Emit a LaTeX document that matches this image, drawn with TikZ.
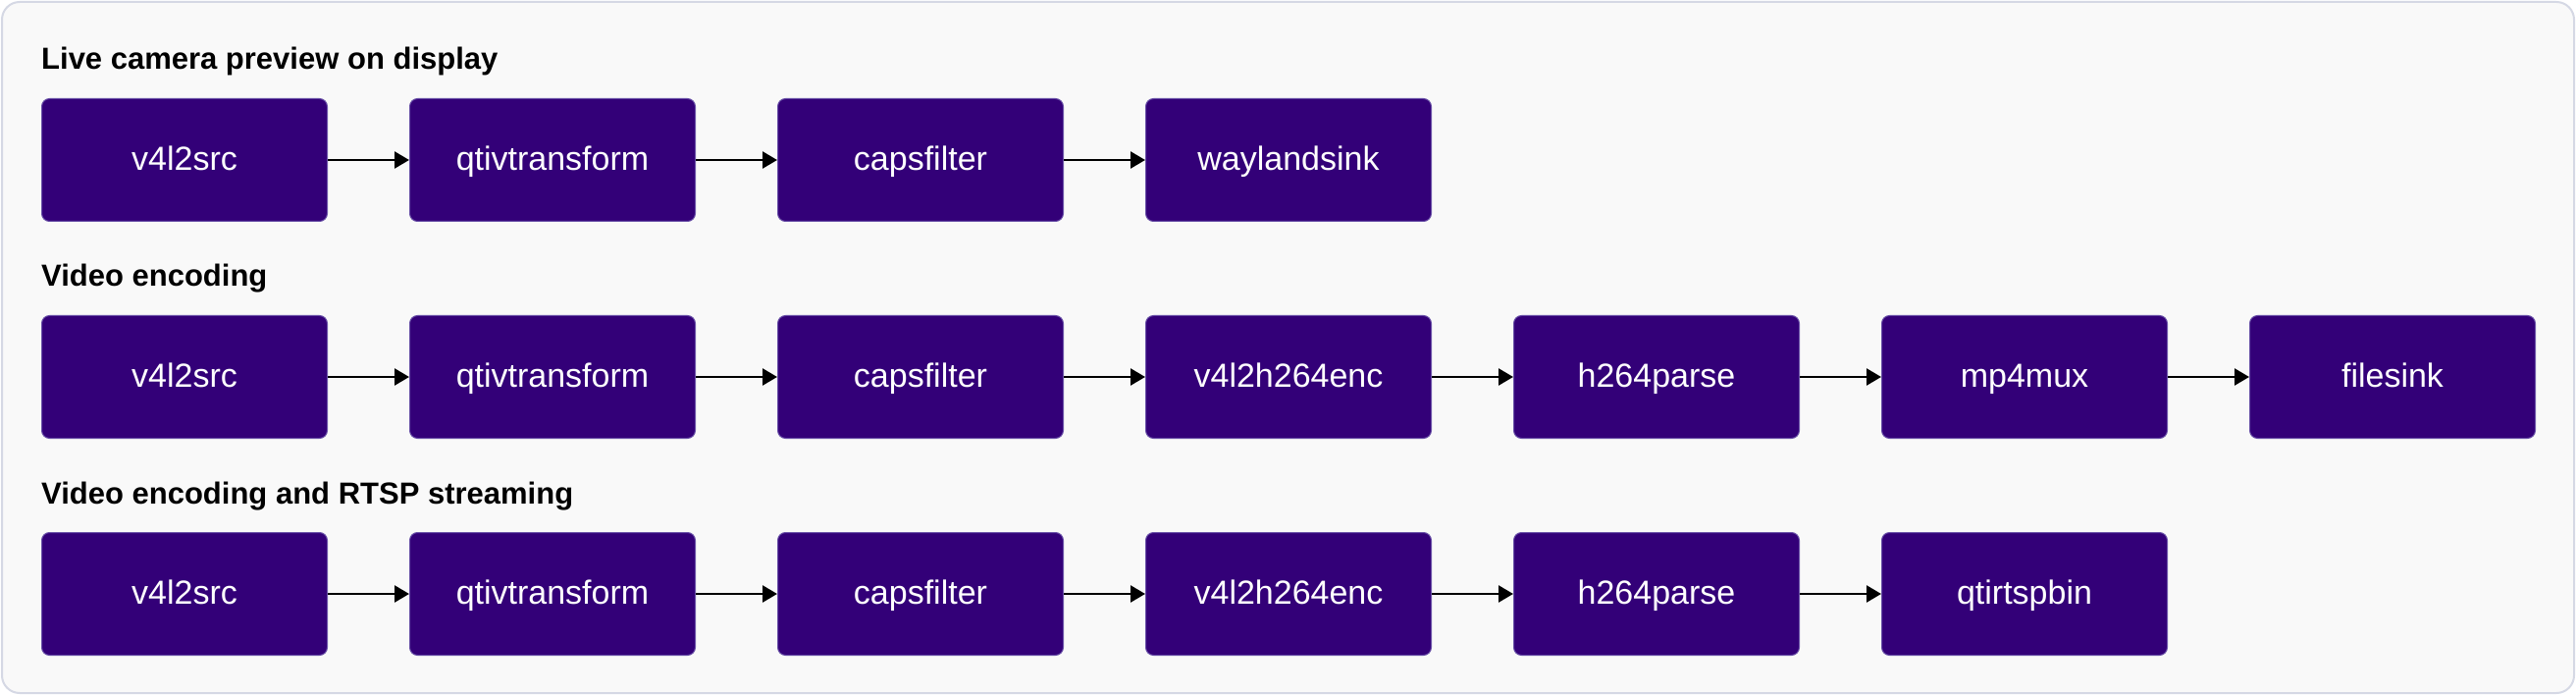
\documentclass[tikz,border=0pt]{standalone}
\usepackage{fontspec}
\setmainfont{Liberation Sans}
\usetikzlibrary{arrows.meta}
\definecolor{boxfill}{HTML}{330078}
\definecolor{boxedge}{HTML}{6A52A8}
\definecolor{framefill}{HTML}{F9F9F9}
\definecolor{frameedge}{HTML}{D5D8E4}
\tikzset{
  stage/.style={draw=boxedge, line width=1pt, fill=boxfill, rounded corners=8pt,
    minimum width=291pt, minimum height=125pt, inner sep=0pt, anchor=north west,
    text=white, font=\fontsize{34}{40}\selectfont, text height=24pt, text depth=3pt},
  rowtitle/.style={anchor=base west, inner sep=0pt, font=\bfseries\fontsize{31}{36}\selectfont, text=black},
  flow/.style={draw=black, line width=2.5pt, -{Triangle[length=15pt,width=17pt]}}
}
\begin{document}
\begin{tikzpicture}[x=1pt,y=-1pt]
\useasboundingbox (0,0) rectangle (2625,708);
\draw[frameedge, fill=framefill, line width=2pt, rounded corners=18pt] (2,2) rectangle (2623,706);
% Row 1
\node[rowtitle] (t1) at (42,71) {Live camera preview on display};
\node[stage] (a0) at (42,100) {v4l2src};
\node[stage] (a1) at (417,100) {qtivtransform};
\node[stage] (a2) at (792,100) {capsfilter};
\node[stage] (a3) at (1167,100) {waylandsink};
\draw[flow] (a0.east) -- (a1.west);
\draw[flow] (a1.east) -- (a2.west);
\draw[flow] (a2.east) -- (a3.west);
% Row 2
\node[rowtitle] (t2) at (42,292) {Video encoding};
\node[stage] (b0) at (42,321) {v4l2src};
\node[stage] (b1) at (417,321) {qtivtransform};
\node[stage] (b2) at (792,321) {capsfilter};
\node[stage] (b3) at (1167,321) {v4l2h264enc};
\node[stage] (b4) at (1542,321) {h264parse};
\node[stage] (b5) at (1917,321) {mp4mux};
\node[stage] (b6) at (2292,321) {filesink};
\draw[flow] (b0.east) -- (b1.west);
\draw[flow] (b1.east) -- (b2.west);
\draw[flow] (b2.east) -- (b3.west);
\draw[flow] (b3.east) -- (b4.west);
\draw[flow] (b4.east) -- (b5.west);
\draw[flow] (b5.east) -- (b6.west);
% Row 3
\node[rowtitle] (t3) at (42,513) {Video encoding and RTSP streaming};
\node[stage] (c0) at (42,542) {v4l2src};
\node[stage] (c1) at (417,542) {qtivtransform};
\node[stage] (c2) at (792,542) {capsfilter};
\node[stage] (c3) at (1167,542) {v4l2h264enc};
\node[stage] (c4) at (1542,542) {h264parse};
\node[stage] (c5) at (1917,542) {qtirtspbin};
\draw[flow] (c0.east) -- (c1.west);
\draw[flow] (c1.east) -- (c2.west);
\draw[flow] (c2.east) -- (c3.west);
\draw[flow] (c3.east) -- (c4.west);
\draw[flow] (c4.east) -- (c5.west);
\end{tikzpicture}
\end{document}
